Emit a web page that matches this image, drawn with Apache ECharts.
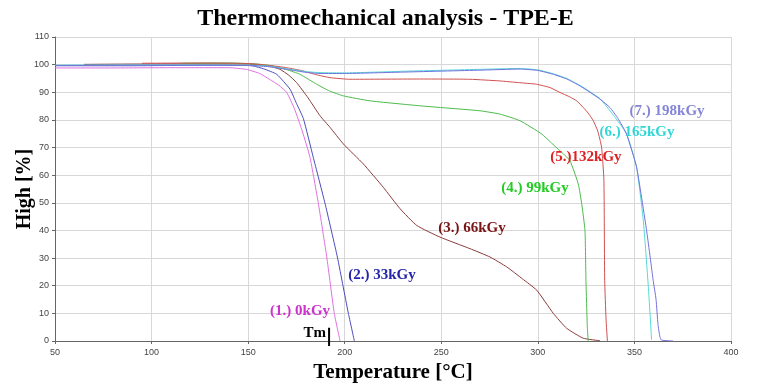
<!DOCTYPE html>
<html>
<head>
<meta charset="utf-8">
<script src="https://cdn.jsdelivr.net/npm/echarts@6/dist/echarts.min.js"></script>
<style>html,body{margin:0;padding:0;background:#fff;}#c{width:771px;height:385px;}</style>
</head>
<body>
<div id="c"></div>
<script>
// ---- data (temperature °C, height %) ----
const xTicks = [50, 100, 150, 200, 250, 300, 350, 400];
const yTicks = [0, 10, 20, 30, 40, 50, 60, 70, 80, 90, 100, 110];

const names = ['(1.) 0kGy', '(2.) 33kGy', '(3.) 66kGy', '(4.) 99kGy', '(5.)132kGy', '(6.) 165kGy', '(7.) 198kGy'];

const t1 = [50, 80, 110, 140, 149, 156, 161, 166, 170, 174, 178, 182, 186.3, 190.7, 194.6, 197.6];
const h1 = [98.8, 98.8, 98.9, 98.9, 98.3, 96.8, 94.7, 92.5, 89.9, 84, 76, 66.5, 50, 30.4, 10, 0];

const t2 = [50, 90, 130, 150, 152.7, 158, 164.8, 171.7, 175, 178.6, 183.7, 189.8, 196.2, 199.1, 201.9, 205];
const h2 = [99.6, 99.6, 99.8, 99.7, 99.5, 98.5, 96.5, 91.1, 86, 80.5, 66.5, 49.8, 30.4, 20, 10, 0];

const t3 = [65, 85, 120, 150, 160, 166.5, 171, 175.1, 181, 187.2, 192.4, 199.3, 209.6, 220, 228.6, 237.3, 249.3, 264.9, 275.2, 283.9, 292, 299.4, 308, 314.9, 323.5, 332.2];
const h3 = [100.1, 100.2, 100.3, 100.2, 99.6, 98.3, 96.2, 93.5, 88, 81.5, 77.3, 71.3, 64.1, 55.6, 47.9, 41.8, 37.6, 33.4, 30.4, 26.8, 22.5, 18.4, 10, 4.6, 1, 0.1];

const t4 = [115, 140, 155, 163, 170, 176.8, 185.5, 192, 199.3, 213.1, 239, 270, 280.4, 290.8, 302, 306.5, 313.2, 316.6, 320.9, 322.7, 324.4, 324.9, 325.6, 326.1];
const h4 = [100.5, 100.6, 100.2, 99.5, 98.2, 96.5, 92.9, 90.5, 88.7, 86.9, 85.1, 83.3, 82.1, 79.7, 74.9, 72, 67.7, 65.3, 56.9, 49.7, 40, 22, 5, 0];

const t5 = [95, 130, 150, 160, 170, 178.6, 185, 192.4, 202.7, 240, 264.9, 280.4, 290, 299.4, 306.3, 311.5, 316, 320.1, 323.5, 326, 328.7, 331, 333, 334.2, 334.6, 335.3, 336];
const h5 = [100.5, 100.6, 100.4, 99.8, 98.9, 97.7, 96.4, 95.3, 94.7, 94.8, 94.7, 94.1, 93.5, 92.9, 91.7, 89.9, 88.5, 86.9, 84.5, 82.5, 79.7, 76, 70.1, 58.1, 22, 8, 0];

const t6 = [50, 100, 150, 160, 170, 180, 187.2, 200, 230, 270, 290.8, 300, 308, 315, 321.8, 327, 332.2, 339.1, 345.9, 351.1, 354.6, 357.2, 358.9];
const h6 = [99.8, 99.9, 99.8, 99.5, 98.5, 97.5, 97.1, 97, 97.6, 98.3, 98.6, 98.1, 96.7, 95, 92.5, 90.2, 87.7, 81.7, 75, 63, 43.6, 19.6, 0.4];

const t7 = [50, 100, 150, 160, 170, 180, 187.2, 200, 230, 270, 290.8, 300, 308, 315, 321.8, 327, 332.2, 337.3, 341.5, 345.9, 351.1, 356.3, 359.7, 361.2, 362.2, 363.2, 364.1, 370];
const h7 = [99.7, 99.8, 99.7, 99.3, 98.3, 97.2, 96.8, 96.8, 97.3, 98.0, 98.4, 97.9, 96.5, 94.8, 92.3, 90, 87.5, 84.5, 80.5, 74.9, 62.9, 40, 22, 15, 6, 1.5, 0.3, 0];

const temps = [t1, t2, t3, t4, t5, t6, t7];
const highs = [h1, h2, h3, h4, h5, h6, h7];

// annotation anchors (data coordinates)
const labelT = [176.9, 219.3, 265.9, 298.5, 324.9, 351.3, 366.9];
const labelH = [10.8, 23.8, 40.8, 55.2, 66.7, 75.7, 83.0];
const tmT = 191.9;

// ---- styles ----
const lineColors = ['#e070e0', '#4b4bbd', '#8b3c3c', '#4cbb4c', '#d05050', '#55d8d8', '#7272dc'];
const textColors = ['#cc33cc', '#2525aa', '#7a1515', '#22cc22', '#dd2222', '#33d6d6', '#8585d8'];

const chart = echarts.init(document.getElementById('c'), null, {renderer: 'canvas'});

const series = temps.map((t, i) => ({
  type: 'line',
  name: names[i],
  data: t.map((x, k) => [x, highs[i][k]]),
  showSymbol: false,
  symbol: 'none',
  smooth: 0.15,
  lineStyle: {color: lineColors[i], width: 1},
  z: 3 + i
}));

chart.setOption({
  animation: false,
  backgroundColor: '#ffffff',
  title: {
    text: 'Thermomechanical analysis - TPE-E',
    left: 'center',
    top: 2,
    textStyle: {fontFamily: 'Liberation Serif', fontWeight: 'bold', fontSize: 24, color: '#000'}
  },
  grid: {left: 55, right: 40, top: 37, bottom: 44, outerBoundsMode: 'none', containLabel: false},
  xAxis: {
    type: 'value', min: 50, max: 400, interval: 50,
    name: 'Temperature [°C]', nameLocation: 'middle', nameGap: 20,
    nameTextStyle: {fontFamily: 'Liberation Serif', fontWeight: 'bold', fontSize: 21, color: '#000'},
    axisLine: {show: true, lineStyle: {color: '#666', width: 1}},
    axisTick: {show: true, length: 3, lineStyle: {color: '#666'}},
    axisLabel: {fontFamily: 'Liberation Sans', fontSize: 9, color: '#444', margin: 7,
      formatter: v => xTicks.includes(v) ? String(v) : ''},
    splitLine: {show: true, lineStyle: {color: '#d8d8d8', width: 1}}
  },
  yAxis: {
    type: 'value', min: 0, max: 110, interval: 10,
    name: 'High [%]', nameLocation: 'middle', nameGap: 20, nameRotate: 90, nameMoveOverlap: false,
    nameTextStyle: {fontFamily: 'Liberation Serif', fontWeight: 'bold', fontSize: 20, color: '#000'},
    axisLine: {show: true, lineStyle: {color: '#666', width: 1}},
    axisTick: {show: true, length: 3, lineStyle: {color: '#666'}},
    axisLabel: {fontFamily: 'Liberation Sans', fontSize: 9, color: '#444', margin: 6,
      formatter: v => yTicks.includes(v) ? String(v) : ''},
    splitLine: {show: true, lineStyle: {color: '#d8d8d8', width: 1}}
  },
  series: series
});

// annotations placed through the chart's own coordinate system
const graphics = names.map((n, i) => {
  const p = chart.convertToPixel({gridIndex: 0}, [labelT[i], labelH[i]]);
  return {
    type: 'text', x: p[0], y: p[1], z: 100,
    style: {text: n, fill: textColors[i], font: 'bold 15px "Liberation Serif"', align: 'center', verticalAlign: 'middle'}
  };
});
const pTop = chart.convertToPixel({gridIndex: 0}, [tmT, 4.8]);
const pBot = chart.convertToPixel({gridIndex: 0}, [tmT, -1.8]);
graphics.push({type: 'line', z: 100, shape: {x1: pTop[0], y1: pTop[1], x2: pBot[0], y2: pBot[1]}, style: {stroke: '#000', lineWidth: 2}});
graphics.push({type: 'text', z: 100, x: pTop[0] - 3, y: pTop[1] + 5,
  style: {text: 'Tm', fill: '#000', font: 'bold 15px "Liberation Serif"', align: 'right', verticalAlign: 'middle'}});
chart.setOption({graphic: graphics});
</script>
</body>
</html>
